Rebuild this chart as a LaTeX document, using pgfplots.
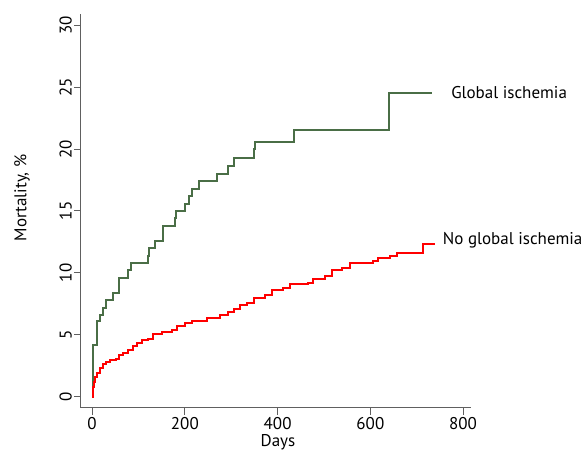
\documentclass[border=0pt]{standalone}
\usepackage{fontspec}
\setmainfont{PT Sans}
\usepackage{pgfplots}
\pgfplotsset{compat=1.18}
\definecolor{kmgreen}{HTML}{4A6E46}
\definecolor{axgray}{HTML}{606060}

\begin{document}
\begin{tikzpicture}
\useasboundingbox (0,0) rectangle (584pt,452pt);
\begin{axis}[
  at={(81pt,44pt)}, anchor=south west,
  scale only axis, width=390pt, height=394pt,
  xmin=-24, xmax=817, ymin=-0.9, ymax=30.9,
  axis x line=bottom, axis y line=left,
  axis line style={-, draw=axgray, line width=1pt},
  tick style={draw=axgray, line width=1pt},
  tick align=outside, major tick length=7pt,
  xtick={0,200,400,600,800}, ytick={0,5,10,15,20,25,30},
  /pgf/number format/assume math mode=true,
  font=\fontsize{17}{20}\selectfont,
  ticklabel style={font=\fontsize{17}{20}\selectfont},
  yticklabel style={rotate=90, anchor=south, inner sep=2pt},
  xticklabel style={inner sep=2pt},
  xlabel={Days}, ylabel={Mortality, \%},
  xlabel style={at={(axis description cs:0.505,-0.087)}, anchor=center},
  ylabel style={at={(axis description cs:-0.151,0.533)}, anchor=center},
  clip=false,
]
% Global ischemia
\addplot[const plot, color=kmgreen, line width=2pt] coordinates {
 (0,0) (1,3.0) (2,4.2) (11,6.1) (17,6.6) (23,7.2) (29,7.8) (44,8.4)
 (57,9.6) (78,10.2) (83,10.8) (121,11.4) (122,12.0) (136,12.6) (152,13.2)
 (153,13.8) (179,14.4) (180,15.0) (200,15.6) (208,16.2) (215,16.8)
 (231,17.4) (269,18.0) (294,18.6) (307,19.3) (348,20.0) (351,20.6)
 (435,21.5) (641,24.5) (733,24.5)};
% No global ischemia
\addplot[const plot, color=red, line width=2pt] coordinates {
 (0,0) (1,0.8) (3,1.2) (6,1.6) (10,1.9) (17,2.3) (24,2.65) (30,2.8)
 (39,2.95) (52,3.05) (57,3.35) (66,3.55) (78,3.8) (88,4.1) (96,4.38)
 (108,4.55) (121,4.7) (132,5.1) (150,5.25) (172,5.4) (182,5.75)
 (200,5.95) (215,6.15) (247,6.35) (276,6.6) (294,6.88) (306,7.1)
 (319,7.42) (333,7.6) (348,7.95) (373,8.23) (387,8.6) (412,8.8)
 (427,9.07) (466,9.2) (477,9.55) (502,9.76) (517,10.2) (538,10.4)
 (556,10.83) (606,11.0) (617,11.2) (642,11.35) (657,11.6) (713,12.3)
 (739,12.3)};
\node[anchor=west, inner sep=0pt] at (axis cs:774,24.6) {Global ischemia};
\node[anchor=west, inner sep=0pt] at (axis cs:756,12.66) {No global ischemia};
\end{axis}
\end{tikzpicture}
\end{document}
